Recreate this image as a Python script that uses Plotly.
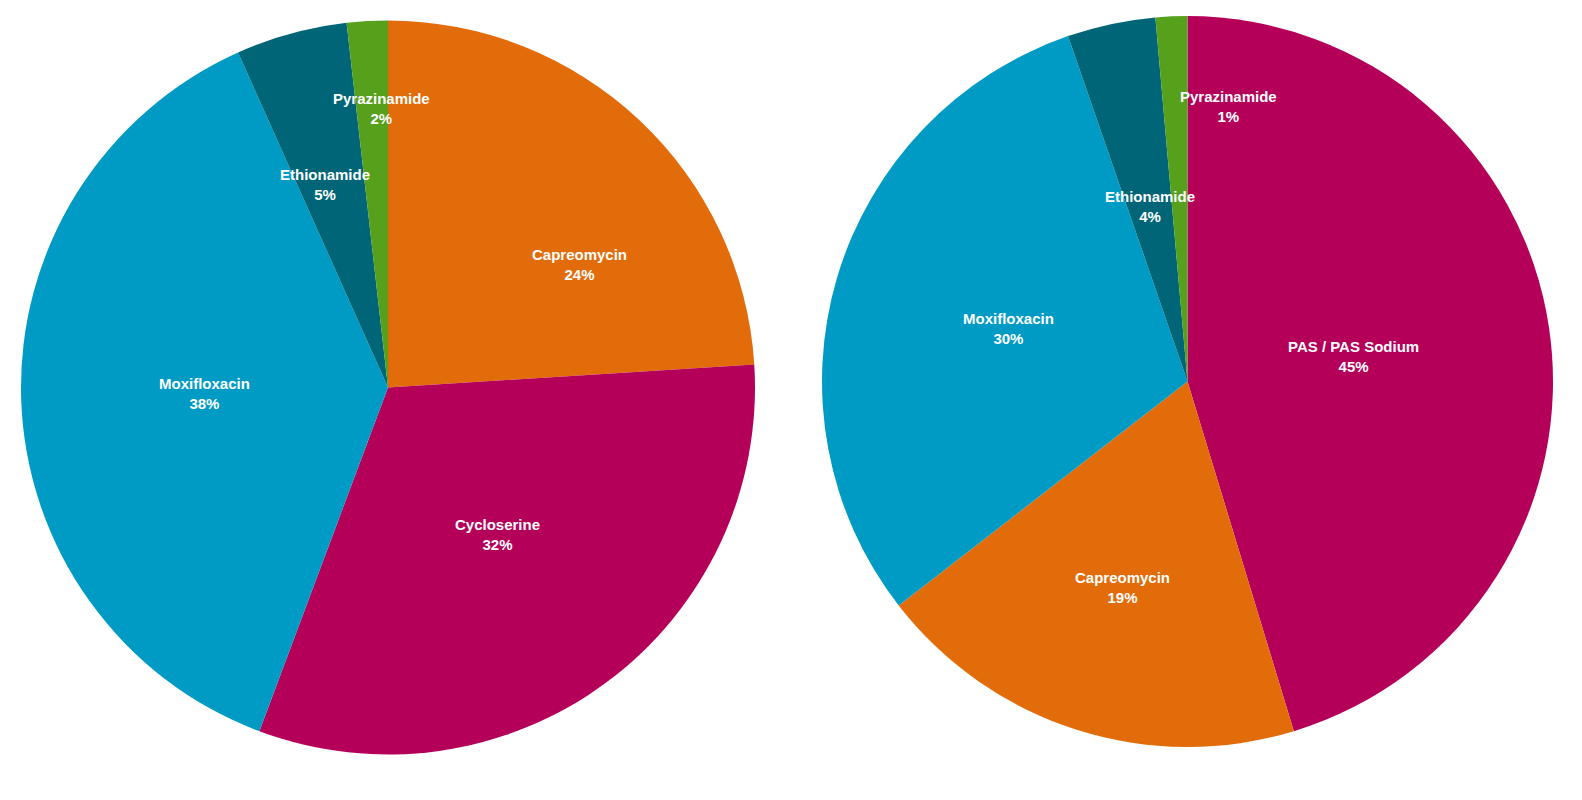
import math
import plotly.graph_objects as go

# ---- data ----
labels_left = ["Capreomycin", "Cycloserine", "Moxifloxacin", "Ethionamide", "Pyrazinamide"]
values_left = [24.0, 31.7, 37.6, 4.9, 1.8]

labels_right = ["PAS / PAS Sodium", "Capreomycin", "Moxifloxacin", "Ethionamide", "Pyrazinamide"]
values_right = [45.3, 19.2, 30.2, 3.9, 1.4]

# ---- style ----
colors_left = ["#e36c0a", "#b5005a", "#009bc5", "#006677", "#56a01c"]
colors_right = ["#b5005a", "#e36c0a", "#009bc5", "#006677", "#56a01c"]
# label placement (fraction of radius, angular nudge in degrees)
lab_r_left = [0.62, 0.50, 0.50, 0.58, 0.76]
lab_da_left = [14, 0, 0, -2, 2]
lab_r_right = [0.46, 0.59, 0.51, 0.49, 0.76]
lab_da_right = [0, 0, 0, 0, 11]

W, H = 1582, 800
OFF = 8  # page body margin offset
FONT = "Liberation Sans, Arial, Helvetica, sans-serif"

fig = go.Figure()
annotations = []


def add_pie(labels, values, colors, x0, x1, y0, y1, lab_r, lab_da):
    x0, x1, y0, y1 = x0 - OFF, x1 - OFF, y0 - OFF, y1 - OFF
    fig.add_trace(go.Pie(
        labels=labels, values=values, sort=False, direction="clockwise", rotation=0,
        marker=dict(colors=colors, line=dict(width=0)),
        textinfo="none",
        domain=dict(x=[x0 / W, x1 / W], y=[1 - y1 / H, 1 - y0 / H]),
        showlegend=False, hoverinfo="label+percent",
    ))
    cx, cy = (x0 + x1) / 2, (y0 + y1) / 2
    r = min(x1 - x0, y1 - y0) / 2
    total = sum(values)
    cum = 0.0
    for lab, v, rf, da in zip(labels, values, lab_r, lab_da):
        mid = (cum + v / 2) / total * 360 + da
        cum += v
        a = math.radians(mid)
        px = cx + rf * r * math.sin(a)
        py = cy - rf * r * math.cos(a)
        pct = round(v / total * 100)
        annotations.append(dict(
            x=px / W, y=1 - py / H, xref="paper", yref="paper",
            xanchor="center", yanchor="middle", showarrow=False,
            text=f"<b>{lab}</b><br><b>{pct}%</b>",
            font=dict(family=FONT, size=15, color="white"),
        ))


add_pie(labels_left, values_left, colors_left, 21, 755, 20, 755, lab_r_left, lab_da_left)
add_pie(labels_right, values_right, colors_right, 822, 1553, 15, 748, lab_r_right, lab_da_right)

fig.update_layout(
    width=W, height=H, margin=dict(l=0, r=0, t=0, b=0),
    paper_bgcolor="white", plot_bgcolor="white",
    annotations=annotations,
)
fig.write_html("out.html")
